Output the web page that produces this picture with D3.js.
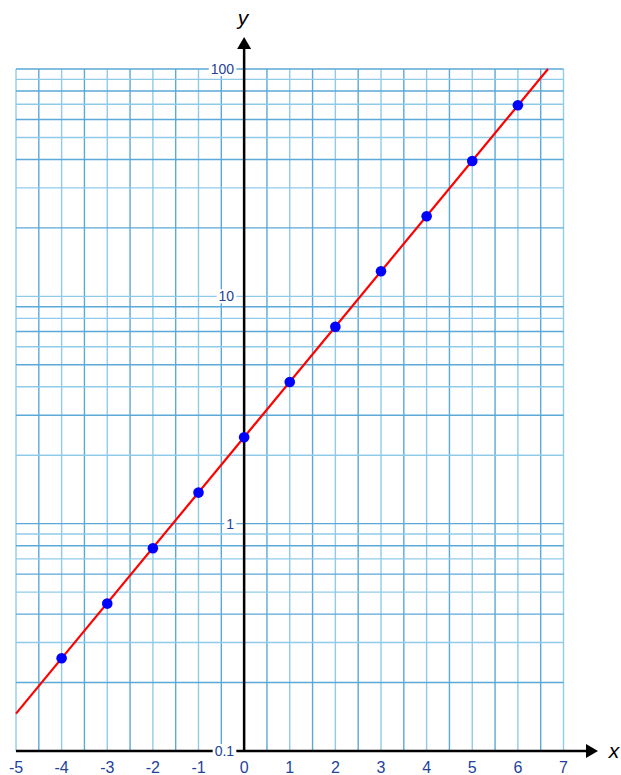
<!DOCTYPE html>
<html><head><meta charset="utf-8">
<script src="https://cdn.jsdelivr.net/npm/d3@7"></script>
<style>body{margin:0;background:#fff}svg{display:block}</style>
</head><body>
<svg id="c" width="621" height="775"></svg>
<script>
const xTicks = [-5,-4,-3,-2,-1,0,1,2,3,4,5,6,7];
const yTickLabels = [{v:0.1,t:"0.1"},{v:1,t:"1"},{v:10,t:"10"},{v:100,t:"100"}];
const pointX = [-4,-3,-2,-1,0,1,2,3,4,5,6];
const pointY = [0.256,0.445,0.78,1.37,2.4,4.2,7.35,12.9,22.5,39.4,69.3];
const lineX = [-5, 6.66];
const lineY = [0.146, 100];

const svg = d3.select("#c");
const x = d3.scaleLinear().domain([-5,7]).range([16,563.5]);
const y = d3.scaleLog().domain([0.1,100]).range([751,69]);

// grid
const g = svg.append("g");
const vx = d3.range(-5, 7.01, 0.5);
g.selectAll(".vg").data(vx).enter().append("line")
  .attr("x1", d=>x(d)).attr("x2", d=>x(d)).attr("y1", y(0.1)).attr("y2", y(100))
  .attr("stroke", d=> Number.isInteger(d) ? "#8fcbe9" : "#5aa9d6").attr("stroke-width", 1.4);
const hy = [];
[0.1,1,10].forEach(dec=>{ for(let k=1;k<10;k++) hy.push(dec*k); });
hy.push(100);
g.selectAll(".hg").data(hy).enter().append("line")
  .attr("x1", x(-5)).attr("x2", x(7)).attr("y1", d=>y(d)).attr("y2", d=>y(d))
  .attr("stroke", (d,i)=> (i%2===0) ? "#8fcbe9" : "#5aa9d6").attr("stroke-width", 1.4);

// axes
svg.append("line").attr("x1", x(-5)).attr("x2", 588).attr("y1", y(0.1)).attr("y2", y(0.1))
  .attr("stroke","#000").attr("stroke-width",2.5);
svg.append("path").attr("d", `M598,${y(0.1)} L586,${y(0.1)-7} L586,${y(0.1)+7} Z`).attr("fill","#000");
svg.append("line").attr("x1", x(0)).attr("x2", x(0)).attr("y1", y(0.1)).attr("y2", 48)
  .attr("stroke","#000").attr("stroke-width",2.5);
svg.append("path").attr("d", `M${x(0)},37 L${x(0)-7},49 L${x(0)+7},49 Z`).attr("fill","#000");

// axis labels
svg.append("text").attr("x", 243).attr("y", 25).attr("text-anchor","middle")
  .attr("font-family","Liberation Sans, Arial, sans-serif").attr("font-style","italic")
  .attr("font-size",21).text("y");
svg.append("text").attr("x", 614).attr("y", 758).attr("text-anchor","middle")
  .attr("font-family","Liberation Sans, Arial, sans-serif").attr("font-style","italic")
  .attr("font-size",21).text("x");

// x tick labels
svg.selectAll(".xt").data(xTicks).enter().append("text")
  .attr("x", d=>x(d)).attr("y", 773).attr("text-anchor","middle")
  .attr("font-family","Liberation Sans, Arial, sans-serif").attr("font-size",16)
  .attr("fill","#23439a").text(d=>d);

// y tick labels with white bg
const yl = svg.selectAll(".yt").data(yTickLabels).enter().append("g");
yl.each(function(d){
  const gg = d3.select(this);
  const t = gg.append("text").attr("x", x(0)-10).attr("y", y(d.v)+5).attr("text-anchor","end")
    .attr("font-family","Liberation Sans, Arial, sans-serif").attr("font-size",14)
    .attr("fill","#23439a").text(d.t);
  const b = t.node().getBBox();
  gg.insert("rect","text").attr("x", b.x-2).attr("y", b.y+1).attr("width", b.width+4).attr("height", b.height-2)
    .attr("fill","#fff");
});

// line
svg.append("path").datum(lineX.map((v,i)=>[v,lineY[i]]))
  .attr("d", d3.line().x(d=>x(d[0])).y(d=>y(d[1])))
  .attr("stroke","#ff0000").attr("stroke-width",2.2).attr("fill","none");

// points
svg.selectAll(".pt").data(pointX.map((v,i)=>[v,pointY[i]])).enter().append("circle")
  .attr("cx", d=>x(d[0])).attr("cy", d=>y(d[1])).attr("r",5.3).attr("fill","#0000ff");
</script>
</body></html>
